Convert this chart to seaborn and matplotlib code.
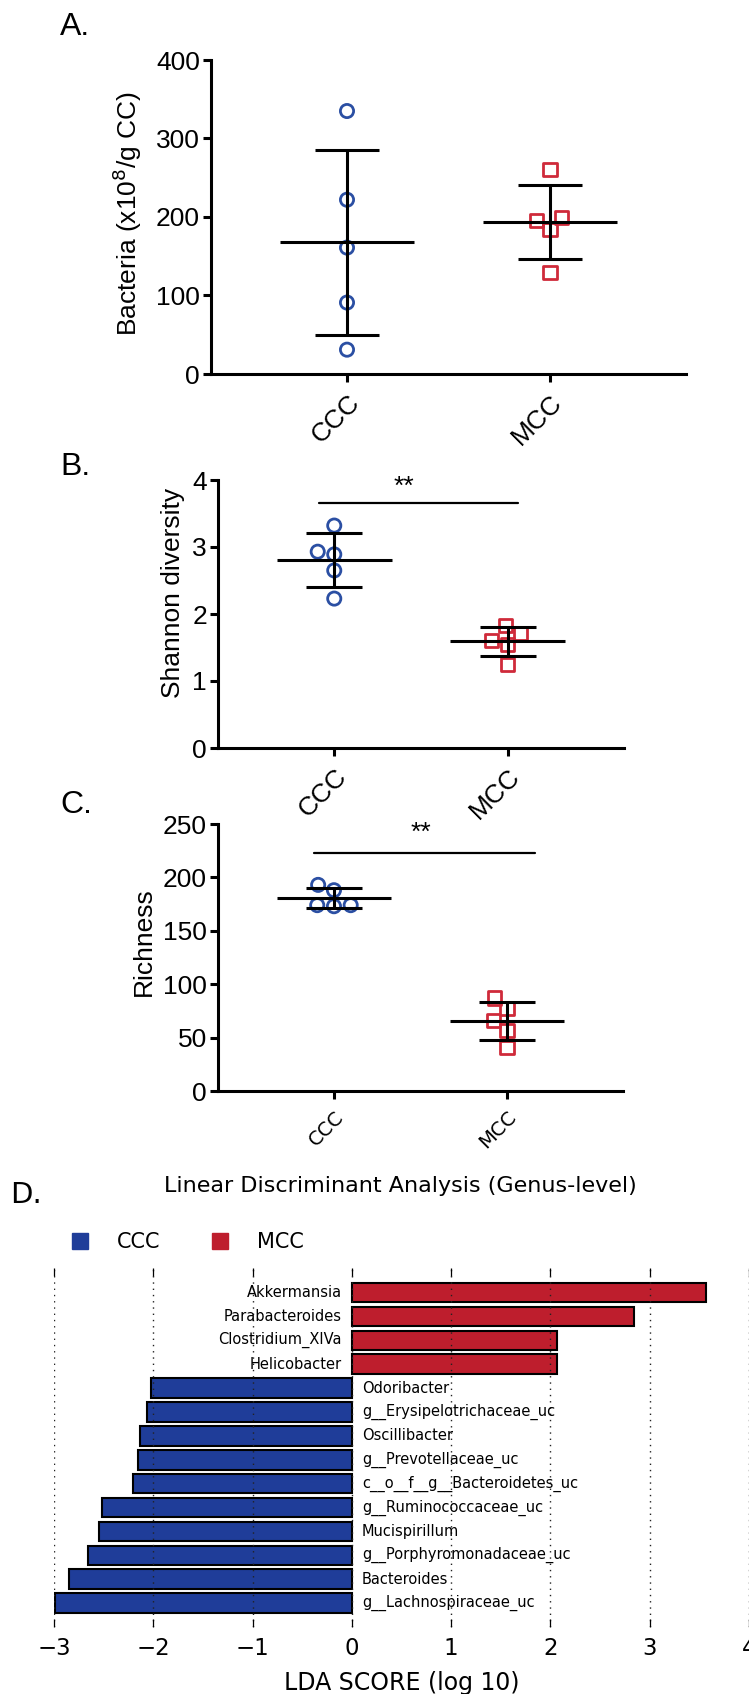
import numpy as np
import pandas as pd
import matplotlib
matplotlib.use("Agg")
import matplotlib.pyplot as plt
from matplotlib.lines import Line2D
import seaborn as sns

# ---------------- data ----------------
groups = ["CCC", "MCC"]

bacteria_ccc = [335, 222, 161, 91, 31]
bacteria_mcc = [260, 199, 196, 184, 129]

shannon_ccc = [3.32, 2.93, 2.89, 2.65, 2.23]
shannon_mcc = [1.83, 1.71, 1.61, 1.55, 1.25]

richness_ccc = [193, 188, 174, 174, 173]
richness_mcc = [87, 77, 66, 57, 41]

lda_taxa = [
    "Akkermansia", "Parabacteroides", "Clostridium_XIVa", "Helicobacter",
    "Odoribacter", "g__Erysipelotrichaceae_uc", "Oscillibacter",
    "g__Prevotellaceae_uc", "c__o__f__g__Bacteroidetes_uc",
    "g__Ruminococcaceae_uc", "Mucispirillum", "g__Porphyromonadaceae_uc",
    "Bacteroides", "g__Lachnospiraceae_uc",
]
lda_scores = [3.57, 2.84, 2.07, 2.07, -2.02, -2.06, -2.13, -2.15, -2.20,
              -2.52, -2.55, -2.66, -2.85, -2.99]
lda_group = ["MCC"] * 4 + ["CCC"] * 10

lda_ticks = [-3, -2, -1, 0, 1, 2, 3, 4]

# ---------------- style ----------------
W, H = 749, 1694
sns.set_theme(style="white")
plt.rcParams["font.family"] = ["Liberation Sans", "DejaVu Sans"]
plt.rcParams.update({
    "text.color": "black",
    "axes.labelcolor": "black",
    "xtick.color": "black",
    "ytick.color": "black",
})

marker_colors = {"CCC": "#2b4fa3", "MCC": "#cf2a3a"}
bar_colors = {"CCC": "#1f3d99", "MCC": "#be1e2d"}
marker_shapes = {"CCC": "o", "MCC": "s"}

fig = plt.figure(figsize=(W / 100, H / 100), dpi=100)


def px_axes(left, right, top, bottom):
    return fig.add_axes([left / W, 1 - bottom / H, (right - left) / W, (bottom - top) / H])


def dot_panel(ax, ccc, mcc, ylabel, ylim, yticks, label_xy, tick_font, tick_size):
    values = {"CCC": ccc, "MCC": mcc}
    for g in groups:
        df = pd.DataFrame({"group": [g] * len(values[g]), "value": values[g]})
        sns.swarmplot(data=df, x="group", y="value", order=groups, ax=ax,
                      marker=marker_shapes[g], size=9.5, facecolor="none",
                      edgecolor=marker_colors[g], linewidth=2.0, zorder=2)
    for i, g in enumerate(groups):
        v = np.asarray(values[g], dtype=float)
        m, s = v.mean(), v.std(ddof=1)
        ax.vlines(i, m - s, m + s, color="black", lw=2.2, zorder=3)
        ax.hlines([m - s, m + s], i - 0.16, i + 0.16, color="black", lw=2.2, zorder=3)
        ax.hlines(m, i - 0.33, i + 0.33, color="black", lw=2.2, zorder=3)
    ax.set_xlim(-0.67, 1.67)
    ax.set_ylim(*ylim)
    ax.set_yticks(yticks)
    ax.set_xlabel("")
    ax.set_ylabel(ylabel, fontsize=19, color="black")
    ax.yaxis.set_label_coords(*label_xy)
    sns.despine(ax=ax)
    for sp in ("left", "bottom"):
        ax.spines[sp].set_linewidth(2.2)
        ax.spines[sp].set_color("black")
    ax.tick_params(axis="both", direction="out", length=6, width=2.2, color="black",
                   labelcolor="black", left=True, bottom=True)
    ax.tick_params(axis="y", labelsize=19, pad=2)
    ax.set_xticks([0, 1])
    ax.set_xticklabels(groups, rotation=45, ha="right", va="top",
                       rotation_mode="anchor", family=tick_font, fontsize=tick_size)
    ax.tick_params(axis="x", pad=6)
    ax.patch.set_alpha(0)


# Panel A: bacterial load
axA = px_axes(211, 686, 60, 374)
dot_panel(axA, bacteria_ccc, bacteria_mcc, r"Bacteria (x10$^{8}$/g CC)",
          (0, 400), [0, 100, 200, 300, 400], (-0.141, 0.511),
          ["Liberation Sans"], 19)

# Panel B: Shannon diversity
axB = px_axes(218, 624, 480, 748)
dot_panel(axB, shannon_ccc, shannon_mcc, "Shannon diversity",
          (0, 4), [0, 1, 2, 3, 4], (-0.081, 0.578),
          ["Liberation Sans"], 19)
axB.plot([-0.09, 1.06], [3.66, 3.66], color="black", lw=1.6)
axB.text(0.40, 3.9, "**", ha="center", va="center", fontsize=19)

# Panel C: richness
axC = px_axes(218, 623, 824, 1091)
dot_panel(axC, richness_ccc, richness_mcc, "Richness",
          (0, 250), [0, 50, 100, 150, 200, 250], (-0.153, 0.56),
          ["DejaVu Sans"], 14)
axC.plot([-0.115, 1.16], [223, 223], color="black", lw=1.6)
axC.text(0.5, 242, "**", ha="center", va="center", fontsize=19)

# Panel D: LEfSe LDA scores
axD = px_axes(54, 749, 1268, 1627)
sns.barplot(x=lda_scores, y=lda_taxa, hue=lda_group, palette=bar_colors,
            dodge=False, width=0.82, orient="h", edgecolor="black",
            linewidth=1.5, legend=False, saturation=1, ax=axD)
axD.set_xlim(lda_ticks[0], lda_ticks[-1])
axD.set_ylim(14.0, -1.03)
axD.set_yticks([])
axD.set_ylabel("")
axD.set_xticks(lda_ticks)
axD.set_xticklabels([f"{t}".replace("-", "\u2212") for t in lda_ticks],
                    family="DejaVu Sans", fontsize=16.5)
for sp in axD.spines.values():
    sp.set_visible(False)
axD.tick_params(axis="x", direction="in", top=True, bottom=True, length=6,
                width=0.9, color="black", labelcolor="black", pad=7)
axD.grid(axis="x", linestyle=(0, (1, 3.5)), color="#222222", lw=1.0)
axD.set_axisbelow(False)
axD.set_xlabel("LDA SCORE (log 10)", family="DejaVu Sans", fontsize=17,
               labelpad=8, color="black")
for i, (name, score) in enumerate(zip(lda_taxa, lda_scores)):
    if score > 0:
        axD.text(-0.1, i, name, ha="right", va="center", family="DejaVu Sans", fontsize=10.5)
    else:
        axD.text(0.1, i, name, ha="left", va="center", family="DejaVu Sans", fontsize=10.5)

handles = [Line2D([], [], marker="s", linestyle="none", markersize=11,
                  color=bar_colors[g], label=g) for g in groups]
axD.legend(handles=handles, loc="center left", ncol=2, frameon=False,
           bbox_to_anchor=(72 / W, 1 - 1242 / H), bbox_transform=fig.transFigure,
           borderpad=0, borderaxespad=0, handlelength=0.8, handletextpad=1.37,
           columnspacing=2.44, labelcolor="black",
           prop={"family": "DejaVu Sans", "size": 15})

# Titles and panel letters
fig.text(400 / W, 1 - 1192 / H, "Linear Discriminant Analysis (Genus-level)",
         ha="center", va="baseline", family="DejaVu Sans", fontsize=16)
for letter, x, y, fam, fs in [("A.", 60, 35, "Liberation Sans", 23),
                              ("B.", 60, 475, "Liberation Sans", 23),
                              ("C.", 60, 813, "Liberation Sans", 23),
                              ("D.", 10, 1203, "DejaVu Sans", 21)]:
    fig.text(x / W, 1 - y / H, letter, ha="left", va="baseline", family=fam, fontsize=fs)

fig.savefig("out.png", dpi=100, facecolor="white")
